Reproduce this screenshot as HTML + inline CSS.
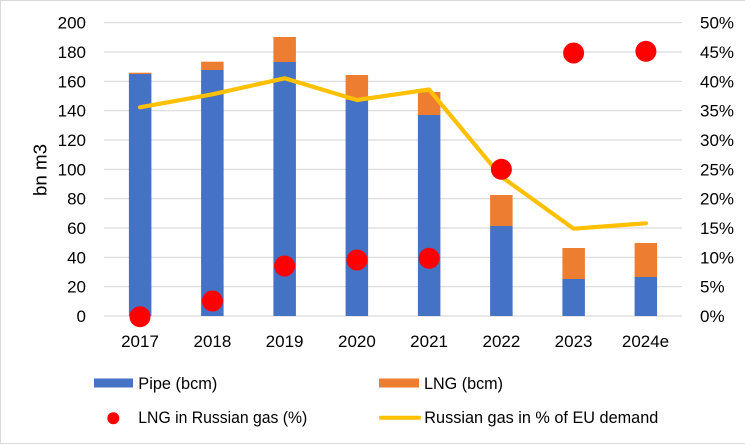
<!DOCTYPE html>
<html>
<head>
<meta charset="utf-8">
<style>
  html,body{margin:0;padding:0;background:#fff;}
  svg{display:block;}
  text{font-family:"Liberation Sans",Arial,sans-serif;fill:#000;}
</style>
</head>
<body>
<svg width="745" height="445" viewBox="0 0 745 445" xmlns="http://www.w3.org/2000/svg">
  <rect x="0" y="0" width="745" height="445" fill="#fff"/>
  <!-- border -->
  <line x1="0.5" y1="0" x2="0.5" y2="444" stroke="#D9D9D9" stroke-width="1"/>
  <line x1="0" y1="0.5" x2="745" y2="0.5" stroke="#D9D9D9" stroke-width="1"/>
  <line x1="0" y1="443.5" x2="745" y2="443.5" stroke="#D9D9D9" stroke-width="1"/>

  <!-- gridlines -->
  <g stroke="#D9D9D9" stroke-width="1.2">
    <line x1="104" x2="682" y1="22.7" y2="22.7"/>
    <line x1="104" x2="682" y1="52" y2="52"/>
    <line x1="104" x2="682" y1="81.3" y2="81.3"/>
    <line x1="104" x2="682" y1="110.7" y2="110.7"/>
    <line x1="104" x2="682" y1="140" y2="140"/>
    <line x1="104" x2="682" y1="169.3" y2="169.3"/>
    <line x1="104" x2="682" y1="198.7" y2="198.7"/>
    <line x1="104" x2="682" y1="228" y2="228"/>
    <line x1="104" x2="682" y1="257.3" y2="257.3"/>
    <line x1="104" x2="682" y1="286.7" y2="286.7"/>
    <line x1="104" x2="682" y1="316" y2="316"/>
  </g>

  <!-- left axis labels -->
  <g font-size="17" text-anchor="end">
    <text x="86" y="28.7">200</text>
    <text x="86" y="58">180</text>
    <text x="86" y="87.3">160</text>
    <text x="86" y="116.7">140</text>
    <text x="86" y="146">120</text>
    <text x="86" y="175.3">100</text>
    <text x="86" y="204.7">80</text>
    <text x="86" y="234">60</text>
    <text x="86" y="263.3">40</text>
    <text x="86" y="292.7">20</text>
    <text x="86" y="322">0</text>
  </g>

  <!-- right axis labels -->
  <g font-size="17" text-anchor="start">
    <text x="700" y="28.7">50%</text>
    <text x="700" y="58">45%</text>
    <text x="700" y="87.3">40%</text>
    <text x="700" y="116.7">35%</text>
    <text x="700" y="146">30%</text>
    <text x="700" y="175.3">25%</text>
    <text x="700" y="204.7">20%</text>
    <text x="700" y="234">15%</text>
    <text x="700" y="263.3">10%</text>
    <text x="700" y="292.7">5%</text>
    <text x="700" y="322">0%</text>
  </g>

  <!-- y axis title -->
  <text transform="translate(46.5,170) rotate(-90)" font-size="18" text-anchor="middle" textLength="52" lengthAdjust="spacingAndGlyphs">bn m3</text>

  <!-- bars: pipe (blue) -->
  <g fill="#4472C4">
    <rect x="128.9" y="74" width="22.5" height="242"/>
    <rect x="201.1" y="70" width="22.5" height="246"/>
    <rect x="273.4" y="62" width="22.5" height="254"/>
    <rect x="345.6" y="100" width="22.5" height="216"/>
    <rect x="417.9" y="115" width="22.5" height="201"/>
    <rect x="490.1" y="226" width="22.5" height="90"/>
    <rect x="562.4" y="279" width="22.5" height="37"/>
    <rect x="634.6" y="277" width="22.5" height="39"/>
  </g>
  <!-- bars: LNG (orange) -->
  <g fill="#ED7D31">
    <rect x="128.9" y="72.7" width="22.5" height="1.3"/>
    <rect x="201.1" y="61.7" width="22.5" height="8.3"/>
    <rect x="273.4" y="37" width="22.5" height="25"/>
    <rect x="345.6" y="75" width="22.5" height="25"/>
    <rect x="417.9" y="92" width="22.5" height="23"/>
    <rect x="490.1" y="195" width="22.5" height="31"/>
    <rect x="562.4" y="248" width="22.5" height="31"/>
    <rect x="634.6" y="243" width="22.5" height="34"/>
  </g>

  <!-- line: Russian gas in % of EU demand -->
  <polyline fill="none" stroke="#FFC000" stroke-width="4.2" stroke-linejoin="round" stroke-linecap="round"
    points="140,107.3 212.4,94.3 284.6,78.3 356.9,100 429.1,89.5 501.4,176.7 573.6,228.7 645.9,223.3"/>

  <!-- dots: LNG in Russian gas -->
  <g fill="#FF0000">
    <circle cx="140" cy="316.7" r="10.5"/>
    <circle cx="212.4" cy="301" r="10.5"/>
    <circle cx="284.6" cy="266" r="10.5"/>
    <circle cx="356.9" cy="260" r="10.5"/>
    <circle cx="429.1" cy="258.3" r="10.5"/>
    <circle cx="501.4" cy="169.3" r="10.5"/>
    <circle cx="573.6" cy="53" r="10.5"/>
    <circle cx="645.9" cy="51.3" r="10.5"/>
  </g>

  <!-- x labels -->
  <g font-size="17" text-anchor="middle">
    <text x="140" y="347">2017</text>
    <text x="212.4" y="347">2018</text>
    <text x="284.6" y="347">2019</text>
    <text x="356.9" y="347">2020</text>
    <text x="429.1" y="347">2021</text>
    <text x="501.4" y="347">2022</text>
    <text x="573.6" y="347">2023</text>
    <text x="645.5" y="347">2024e</text>
  </g>

  <!-- legend -->
  <rect x="94" y="378.5" width="39" height="9" fill="#4472C4"/>
  <text x="138.3" y="389" font-size="17" textLength="79" lengthAdjust="spacingAndGlyphs">Pipe (bcm)</text>

  <rect x="379" y="378.5" width="40" height="9" fill="#ED7D31"/>
  <text x="424" y="389" font-size="17" textLength="79" lengthAdjust="spacingAndGlyphs">LNG (bcm)</text>

  <circle cx="113.3" cy="418.3" r="6" fill="#FF0000"/>
  <text x="138.3" y="423" font-size="17" textLength="169" lengthAdjust="spacingAndGlyphs">LNG in Russian gas (%)</text>

  <line x1="381" y1="417.7" x2="419" y2="417.7" stroke="#FFC000" stroke-width="4" stroke-linecap="round"/>
  <text x="424.3" y="423" font-size="17" textLength="234" lengthAdjust="spacingAndGlyphs">Russian gas in % of EU demand</text>
</svg>
</body>
</html>
